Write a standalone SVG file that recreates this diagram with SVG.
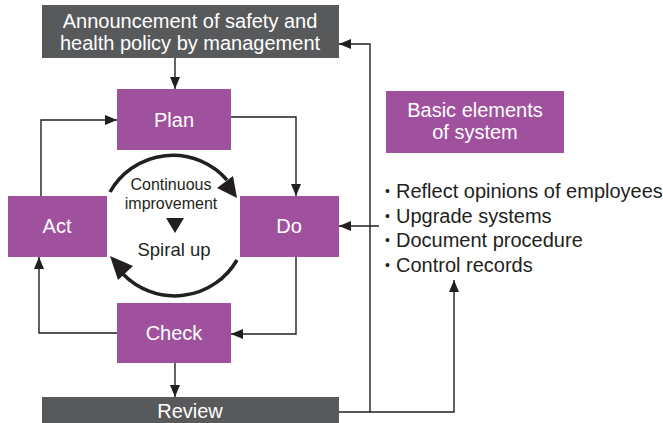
<svg xmlns="http://www.w3.org/2000/svg" width="663" height="423" viewBox="0 0 663 423">
<defs>
<style>
.dark{fill:#58595b}
.purp{fill:#a0519e}
.wt{fill:#ffffff;font-family:"Liberation Sans",Arial,sans-serif;font-size:20px;text-anchor:middle}
.bt{fill:#231f20;font-family:"Liberation Sans",Arial,sans-serif;font-size:20px}
.bu{fill:#231f20;font-family:"Liberation Sans",Arial,sans-serif;font-size:14px}
.ct{fill:#231f20;font-family:"Liberation Sans",Arial,sans-serif;font-size:16px;text-anchor:middle}
.ln{fill:none;stroke:#231f20;stroke-width:1.4}
.arc{fill:none;stroke:#231f20;stroke-width:3.5}
</style>
<marker id="ah" viewBox="0 0 12 10" refX="12" refY="5" markerWidth="12" markerHeight="10" markerUnits="userSpaceOnUse" orient="auto">
<path d="M0,0 L12,5 L0,10 Z" fill="#231f20"/>
</marker>
</defs>
<rect width="663" height="423" fill="#ffffff"/>
<g id="announcement">
<rect x="42" y="5" width="297" height="53" class="dark"/>
<text x="190" y="28" class="wt">Announcement of safety and</text>
<text x="190" y="50" class="wt">health policy by management</text>
</g>
<g id="plan">
<rect x="117" y="89" width="114" height="61" class="purp"/>
<text x="174" y="127" class="wt">Plan</text>
</g>
<g id="do">
<rect x="240" y="196" width="99" height="61" class="purp"/>
<text x="289" y="233" class="wt">Do</text>
</g>
<g id="act">
<rect x="8" y="196" width="99" height="61" class="purp"/>
<text x="57" y="233" class="wt">Act</text>
</g>
<g id="check">
<rect x="117" y="303" width="114" height="60" class="purp"/>
<text x="174" y="340" class="wt">Check</text>
</g>
<g id="review">
<rect x="42" y="397" width="297" height="26" class="dark"/>
<text x="190" y="418" class="wt">Review</text>
</g>
<g id="basic">
<rect x="386" y="91" width="178" height="62" class="purp"/>
<text x="475" y="117" class="wt">Basic elements</text>
<text x="475" y="139" class="wt">of system</text>
</g>
<g id="bullets">
<text x="385" y="196" class="bu">•</text>
<text x="396" y="198" class="bt">Reflect opinions of employees</text>
<text x="385" y="221" class="bu">•</text>
<text x="396" y="223" class="bt">Upgrade systems</text>
<text x="385" y="245" class="bu">•</text>
<text x="396" y="247" class="bt">Document procedure</text>
<text x="385" y="270" class="bu">•</text>
<text x="396" y="272" class="bt">Control records</text>
</g>
<g id="cycle">
<path class="arc" d="M110,192 A72,72 0 0 1 227,180"/>
<path d="M237,198 L217,188 L233,176 Z" fill="#231f20"/>
<path class="arc" d="M237,260 A72,72 0 0 1 123,274"/>
<path d="M110,256 L133,266 L118,280 Z" fill="#231f20"/>
<text x="171" y="190" class="ct">Continuous</text>
<text x="171" y="209" class="ct">improvement</text>
<path d="M166,218 L184,218 L175,233 Z" fill="#231f20"/>
<text x="174" y="256" class="ct" style="font-size:18.5px">Spiral up</text>
</g>
<g id="connectors">
<path class="ln" d="M175,58 V89" marker-end="url(#ah)"/>
<path class="ln" d="M231,117 H296 V196" marker-end="url(#ah)"/>
<path class="ln" d="M296,257 V334 H231" marker-end="url(#ah)"/>
<path class="ln" d="M117,333 H39 V257" marker-end="url(#ah)"/>
<path class="ln" d="M41,196 V120 H117" marker-end="url(#ah)"/>
<path class="ln" d="M175,363 V397" marker-end="url(#ah)"/>
<path class="ln" d="M339,412 H370 V44 H339" marker-end="url(#ah)"/>
<path class="ln" d="M370,412 H454 V280" marker-end="url(#ah)"/>
<path class="ln" d="M379,226 H339" marker-end="url(#ah)"/>
</g>
</svg>
